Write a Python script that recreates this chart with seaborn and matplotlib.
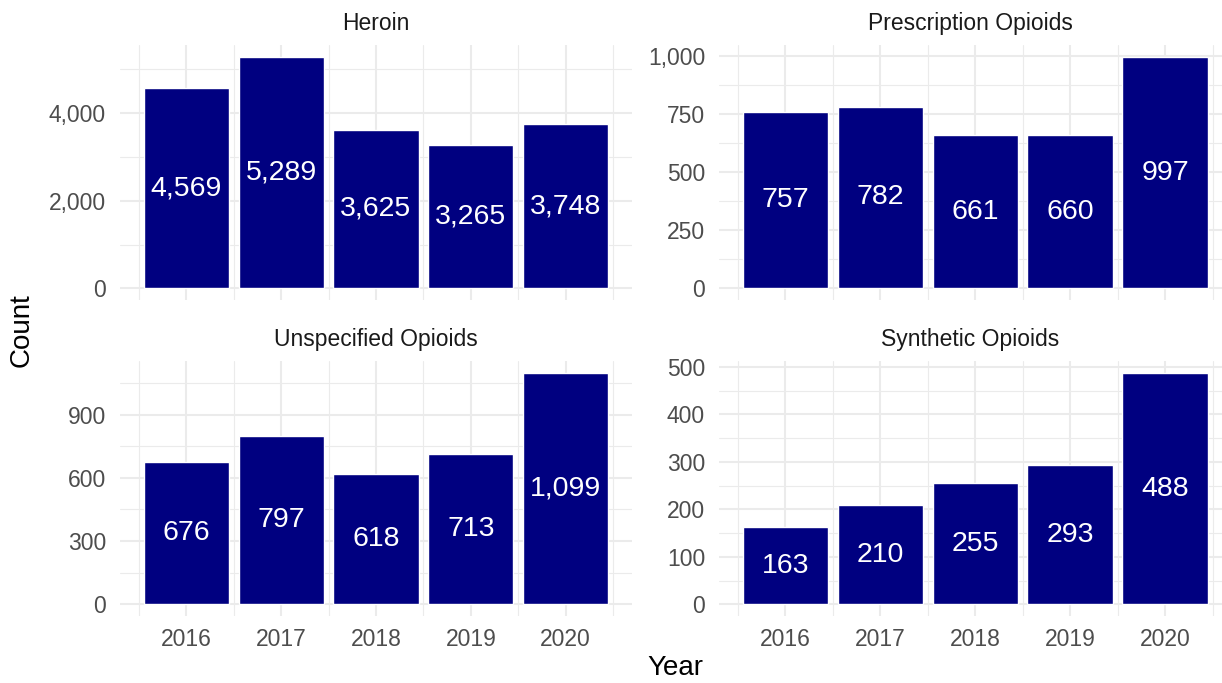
import matplotlib
matplotlib.use("Agg")
import matplotlib.pyplot as plt
import seaborn as sns
import pandas as pd
import numpy as np
from matplotlib.ticker import FuncFormatter, MultipleLocator, FixedLocator

years = ["2016", "2017", "2018", "2019", "2020"]
heroin = [4569, 5289, 3625, 3265, 3748]
prescription = [757, 782, 661, 660, 997]
unspecified = [676, 797, 618, 713, 1099]
synthetic = [163, 210, 255, 293, 488]

panels = [
    ("Heroin", heroin, 2000),
    ("Prescription Opioids", prescription, 250),
    ("Unspecified Opioids", unspecified, 300),
    ("Synthetic Opioids", synthetic, 100),
]

sns.set_theme(style="white")
plt.rcParams['font.family'] = ['Liberation Sans', 'DejaVu Sans']

W, H = 1222, 683
fig = plt.figure(figsize=(W/100, H/100), dpi=100)

# pixel boxes: (left, right, top, bottom, xmax)
boxes = [
    (120, 632, 45, 300, 4.7),
    (719, 1222, 45, 300, 4.6),
    (120, 632, 361, 616, 4.7),
    (719, 1222, 361, 616, 4.6),
]

bar_color = "#000080"
grid_c = "#EBEBEB"
fmt = FuncFormatter(lambda v, p: f"{int(round(v)):,}")

for i, ((title, vals, step), (l, r, t, b, xmax)) in enumerate(zip(panels, boxes)):
    ax = fig.add_axes([l/W, 1 - b/H, (r-l)/W, (b-t)/H])
    df = pd.DataFrame({"Year": years, "Count": vals})
    sns.barplot(data=df, x="Year", y="Count", color=bar_color, width=0.9,
                saturation=1, ax=ax, zorder=3)
    mx = max(vals)
    ax.set_ylim(-0.05*mx, 1.05*mx)
    ax.set_xlim(-0.7, xmax)
    ax.yaxis.set_major_locator(MultipleLocator(step))
    ax.yaxis.set_minor_locator(MultipleLocator(step/2))
    ax.xaxis.set_minor_locator(FixedLocator(np.arange(-0.5, 5.0, 1.0)))
    ax.yaxis.set_major_formatter(fmt)
    ax.grid(True, which="major", color=grid_c, linewidth=1.5, zorder=0)
    ax.grid(True, which="minor", color=grid_c, linewidth=0.8, zorder=0)
    ax.set_axisbelow(True)
    for s in ax.spines.values():
        s.set_visible(False)
    ax.tick_params(axis="both", which="both", length=0, labelsize=16.5,
                   labelcolor="#4D4D4D")
    ax.tick_params(axis="y", pad=10)
    ax.tick_params(axis="x", pad=9)
    ax.set_xlabel("")
    ax.set_ylabel("")
    if i < 2:
        ax.set_xticklabels([])
    for j, v in enumerate(vals):
        ax.text(j, v/2, f"{v:,}", ha="center", va="center", color="white",
                fontsize=20.5, zorder=4)
    ax.set_title(title, fontsize=16.5, color="#1A1A1A", pad=11)

fig.text(22/W, 1 - 330/H, "Count", rotation=90, ha="center", va="center",
         fontsize=20, color="black")
fig.text(675/W, 1 - 668/H, "Year", ha="center", va="center",
         fontsize=20, color="black")

fig.savefig("out.png", dpi=100, facecolor="white")
